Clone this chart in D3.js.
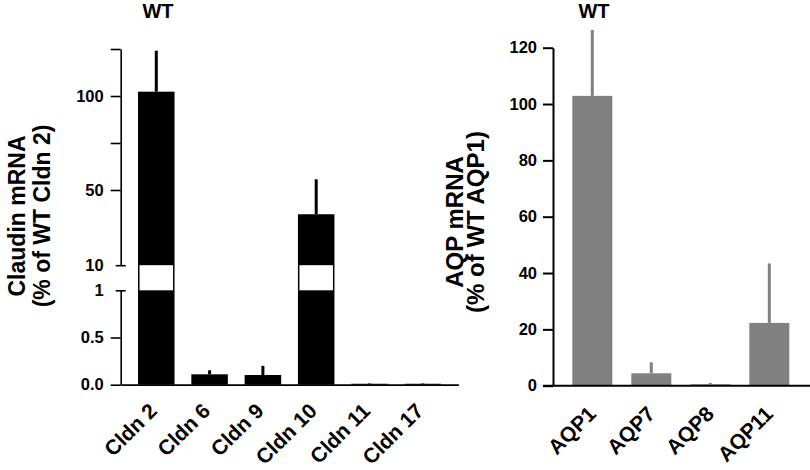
<!DOCTYPE html>
<html><head><meta charset="utf-8">
<script src="https://cdn.jsdelivr.net/npm/d3@7"></script>
<style>
body{margin:0;background:#fff;}
svg text{font-family:"Liberation Sans",Arial,Helvetica,sans-serif;font-weight:bold;fill:#000;}
</style></head>
<body><svg id="c" width="810" height="470"></svg>
<script>
// ---- data ----
const claudinCats = ["Cldn 2","Cldn 6","Cldn 9","Cldn 10","Cldn 11","Cldn 17"];
const claudinMean = [102.3, 0.11, 0.103, 37.1, 0.01, 0.01];
const claudinErr  = [21.8, 0.043, 0.097, 18.6, 0.005, 0.005];
const claudinUpperTicks = [10, 50, 75, 100, 125];
const claudinUpperLabels = ["10", "50", "", "100", ""];
const claudinLowerTicks = [0, 0.5, 1];
const claudinLowerLabels = ["0.0", "0.5", "1"];

const aqpCats = ["AQP1","AQP7","AQP8","AQP11"];
const aqpMean = [102.9, 4.4, 0.5, 22.3];
const aqpErr  = [23.4, 3.9, 0.5, 21.1];
const aqpTicks = [0, 20, 40, 60, 80, 100, 120];

const svg = d3.select("#c");

// ---------- Left panel: claudins (broken axis) ----------
const L = {x0:120.7, x1:458.4, base:384.7, lowTop:290.3, upBot:265.2, top:49};
const xL = d3.scaleBand().domain(claudinCats).range([L.x0, L.x1]).paddingInner(0.315).paddingOuter(0.325);
const yUp = d3.scaleLinear().domain([10,125]).range([L.upBot, L.top]);
const yLo = d3.scaleLinear().domain([0,1]).range([L.base, L.lowTop]);

const gL = svg.append("g");
claudinCats.forEach((c,i)=>{
  const v = claudinMean[i], e = claudinErr[i];
  const x = xL(c), w = xL.bandwidth();
  const yt = v > 1 ? (v >= 10 ? yUp(v) : yUp(10)) : yLo(v);
  gL.append("rect").attr("x",x).attr("y",yt).attr("width",w).attr("height",L.base-yt).attr("fill","#000");
  if (v > 10) {
    gL.append("rect").attr("x",x+1.5).attr("y",yUp(10)).attr("width",w-3)
      .attr("height",yLo(1)-yUp(10)).attr("fill","#fff");
  }
  const ye = (v+e) >= 10 ? yUp(v+e) : yLo(v+e);
  gL.append("line").attr("x1",x+w/2).attr("x2",x+w/2).attr("y1",yt).attr("y2",ye)
    .attr("stroke","#000").attr("stroke-width",3);
});
const axUp = gL.append("g").attr("transform",`translate(${L.x0},0)`)
  .call(d3.axisLeft(yUp).tickValues(claudinUpperTicks).tickSize(10).tickSizeOuter(0).tickPadding(7)
    .tickFormat((d,i)=>claudinUpperLabels[i]));
const axLo = gL.append("g").attr("transform",`translate(${L.x0},0)`)
  .call(d3.axisLeft(yLo).tickValues(claudinLowerTicks).tickSize(10).tickSizeOuter(0).tickPadding(7)
    .tickFormat((d,i)=>claudinLowerLabels[i]));
[axUp, axLo].forEach(a=>{
  a.select(".domain").attr("stroke-width",1.6);
  a.selectAll(".tick line").attr("stroke-width",1.6);
  a.selectAll(".tick text").style("font-size","16.5px");
});
axUp.selectAll(".tick").filter(d=>d===10).select("line").attr("x1",-5).attr("x2",5);
axLo.selectAll(".tick").filter(d=>d===1).select("line").attr("x1",-5).attr("x2",5);
const axXL = gL.append("g").attr("transform",`translate(0,${L.base})`)
  .call(d3.axisBottom(xL).tickSize(0).tickSizeOuter(0).tickPadding(0));
axXL.select(".domain").attr("stroke-width",1.8);
axXL.selectAll(".tick text").style("font-size","21px").attr("text-anchor","end")
  .attr("dy",0).attr("y",0)
  .attr("transform","translate(2,27.5) rotate(-45)");
gL.append("text").attr("x",158).attr("y",18).attr("text-anchor","middle").style("font-size","20px").text("WT");
const lblL = gL.append("text").attr("transform","translate(24.5,216) rotate(-90)").attr("text-anchor","middle").style("font-size","23px");
lblL.append("tspan").attr("x",0).attr("y",0).text("Claudin mRNA");
lblL.append("tspan").attr("x",0).attr("y",25.5).text("(% of WT Cldn 2)");

// ---------- Right panel: AQP ----------
const R = {x0:553, x1:808.6, base:385.7, top:47.7};
const xR = d3.scaleBand().domain(aqpCats).range([R.x0, R.x1]).paddingInner(0.322).paddingOuter(0.327);
const yR = d3.scaleLinear().domain([0,120]).range([R.base, R.top]);
const gR = svg.append("g");
gR.selectAll("rect.bar").data(aqpCats).join("rect").attr("class","bar")
  .attr("x",d=>xR(d)).attr("width",xR.bandwidth())
  .attr("y",(d,i)=>yR(aqpMean[i])).attr("height",(d,i)=>R.base-yR(aqpMean[i]))
  .attr("fill","#808080");
gR.selectAll("line.err").data(aqpCats).join("line").attr("class","err")
  .attr("x1",d=>xR(d)+xR.bandwidth()/2).attr("x2",d=>xR(d)+xR.bandwidth()/2)
  .attr("y1",(d,i)=>yR(aqpMean[i])).attr("y2",(d,i)=>yR(aqpMean[i]+aqpErr[i]))
  .attr("stroke","#808080").attr("stroke-width",3);
const axR = gR.append("g").attr("transform",`translate(${R.x0},0)`)
  .call(d3.axisLeft(yR).tickValues(aqpTicks).tickSize(10).tickSizeOuter(0).tickPadding(6).tickFormat(d3.format("d")));
axR.select(".domain").attr("stroke-width",2);
axR.selectAll(".tick line").attr("stroke-width",2);
axR.selectAll(".tick text").style("font-size","16.5px");
const axXR = gR.append("g").attr("transform",`translate(0,${R.base})`)
  .call(d3.axisBottom(xR).tickSize(0).tickSizeOuter(0).tickPadding(0));
axXR.select(".domain").attr("stroke-width",2).attr("d",`M${R.x0-10},0H810`);
axXR.selectAll(".tick text").style("font-size","21px").attr("text-anchor","end")
  .attr("dy",0).attr("y",0)
  .attr("transform","translate(5,29.5) rotate(-45)");
gR.append("text").attr("x",594).attr("y",18).attr("text-anchor","middle").style("font-size","20px").text("WT");
const lblR = gR.append("text").attr("transform","translate(462.5,222) rotate(-90)").attr("text-anchor","middle").style("font-size","24px");
lblR.append("tspan").attr("x",0).attr("y",0).text("AQP mRNA");
lblR.append("tspan").attr("x",0).attr("y",21).text("(% of WT AQP1)");
</script></body></html>
